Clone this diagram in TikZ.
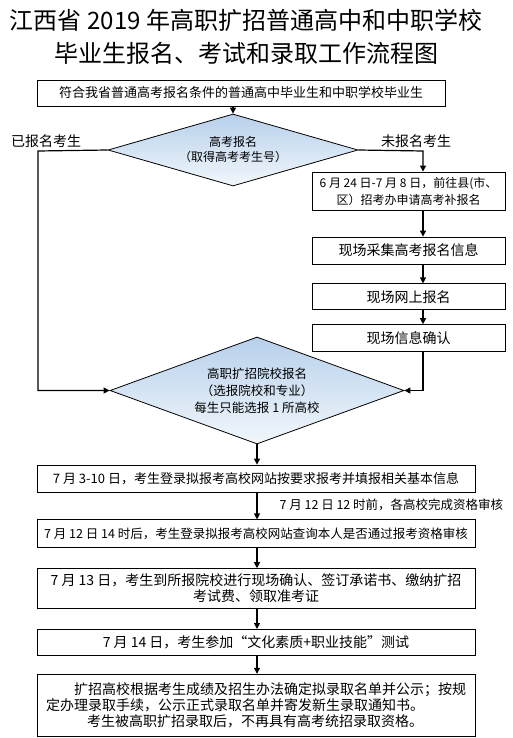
\documentclass[tikz,border=0pt]{standalone}
\usepackage{fontspec}
\newfontfamily\cjk{Noto Sans CJK SC}
\usetikzlibrary{positioning,shapes.geometric,arrows.meta}
\definecolor{dtop}{RGB}{183,208,235}
\definecolor{dbot}{RGB}{242,247,252}

\begin{document}
\begin{tikzpicture}[x=1pt,y=-1pt,
    boxnode/.style={rectangle, draw=black, line width=0.8pt, inner sep=0pt, align=center, font=\cjk\fontsize{12.5}{17}\selectfont},
    decnode/.style={diamond, draw=black, line width=0.8pt, inner sep=0pt, align=center, top color=dtop, bottom color=dbot, font=\cjk\fontsize{12}{15}\selectfont},
    labelnode/.style={font=\cjk\fontsize{14}{16}\selectfont},
    >={Triangle[length=6pt,width=6pt]}]
    \useasboundingbox (0,0) rectangle (513,738);
    %Nodes
    \node[align=center, font=\cjk\fontsize{24}{33}\selectfont] (title) at (246,37) {江西省 2019 年高职扩招普通高中和中职学校\\毕业生报名、考试和录取工作流程图};
    \node[boxnode, minimum width=408pt, minimum height=26pt, font=\cjk\fontsize{13}{15}\selectfont] (start) at (241,93) {符合我省普通高考报名条件的普通高中毕业生和中职学校毕业生};
    \node[decnode, aspect=3.47, minimum width=250pt, minimum height=72pt] (enroll) at (233,150) {高考报名\\（取得高考考生号）};
    \node[labelnode] (done) at (46,141) {已报名考生};
    \node[labelnode] (notdone) at (416,141) {未报名考生};

    \node[boxnode, minimum width=193pt, minimum height=38pt, font=\cjk\fontsize{12}{17}\selectfont] (late) at (408.5,191) {6 月 24 日-7 月 8 日，前往县(市、\\区）招考办申请高考补报名};
    \node[boxnode, minimum width=193pt, minimum height=27pt, font=\cjk\fontsize{14}{16}\selectfont] (collect) at (408.5,250.5) {现场采集高考报名信息};
    \node[boxnode, minimum width=193pt, minimum height=26pt, font=\cjk\fontsize{14}{16}\selectfont] (online) [below=19pt of collect] {现场网上报名};
    \node[boxnode, minimum width=193pt, minimum height=27pt, font=\cjk\fontsize{14}{16}\selectfont] (confirm) [below=14pt of online] {现场信息确认};

    \node[decnode, aspect=2.75, minimum width=294pt, minimum height=107pt, font=\cjk\fontsize{12.5}{17}\selectfont] (choose) at (257,390.5) {高职扩招院校报名\\（选报院校和专业）\\每生只能选报 1 所高校};

    \node[boxnode, minimum width=438pt, minimum height=27pt, font=\cjk\fontsize{13}{15}\selectfont] (apply) at (256,478.5) {7 月 3-10 日，考生登录拟报考高校网站按要求报考并填报相关基本信息};
    \node[boxnode, minimum width=438pt, minimum height=28pt] (check) [below=27pt of apply] {7 月 12 日 14 时后，考生登录拟报考高校网站查询本人是否通过报考资格审核};
    \node[boxnode, minimum width=438pt, minimum height=40pt, font=\cjk\fontsize{14}{16}\selectfont] (sign) [below=20pt of check] {7 月 13 日，考生到所报院校进行现场确认、签订承诺书、缴纳扩招\\考试费、领取准考证};
    \node[boxnode, minimum width=438pt, minimum height=26pt, font=\cjk\fontsize{14}{16}\selectfont] (exam) [below=20pt of sign] {7 月 14 日，考生参加“文化素质+职业技能”测试};
    \node[boxnode, minimum width=438pt, minimum height=62pt, align=left, font=\cjk\fontsize{14}{16}\selectfont] (admit) [below=18pt of exam] {\hspace*{28pt}扩招高校根据考生成绩及招生办法确定拟录取名单并公示；按规\\定办理录取手续，公示正式录取名单并寄发新生录取通知书。\\\hspace*{41pt}考生被高职扩招录取后，不再具有高考统招录取资格。};
    \node[anchor=west, font=\cjk\fontsize{12.5}{15}\selectfont] (deadline) at (276,505) {7 月 12 日 12 时前，各高校完成资格审核};

    \coordinate (lturn) at (38,151);
    \coordinate (rturn) at (423,151);

    % %Lines
    \draw[->, line width=1.2pt] (start.south -| enroll.north) -- (enroll.north);
    \draw[->, line width=1.2pt] (enroll.west) -- (lturn) |- (choose.west);
    \draw[->, line width=1.2pt] (enroll.east) -- (rturn) -- (rturn |- late.north);
    \draw[->, line width=1.2pt] (late.south -| rturn) -- (collect.north -| rturn);
    \draw[->, line width=1.2pt] (collect.south -| rturn) -- (online.north -| rturn);
    \draw[->, line width=1.2pt] (online.south -| rturn) -- (confirm.north -| rturn);
    \draw[->, line width=1.2pt] (confirm.south -| rturn) |- (choose.east);
    \draw[->, line width=1.2pt] (choose.south) -- (apply.north -| choose.south);
    \draw[->, line width=1.2pt] (apply.south -| choose.south) -- (check.north -| choose.south);
    \draw[->, line width=1.2pt] (check.south -| choose.south) -- (sign.north -| choose.south);
    \draw[->, line width=1.2pt] (sign.south -| choose.south) -- (exam.north -| choose.south);
    \draw[->, line width=1.2pt] (exam.south -| choose.south) -- (admit.north -| choose.south);
  \end{tikzpicture}
\end{document}
